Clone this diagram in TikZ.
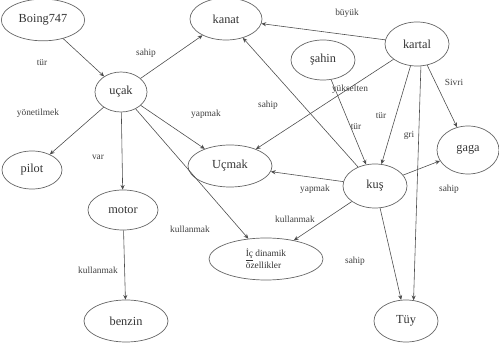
\documentclass[tikz,border=0pt]{standalone}
\usepackage{fontspec}
\setmainfont{Liberation Serif}
\usetikzlibrary{shapes.geometric,arrows.meta}
\tikzset{
    concept/.style={ellipse, draw=black!60, line width=0.6pt, inner sep=0pt,
        text=black!80, font=\fontsize{10.5}{11}\selectfont},
    rel/.style={text=black!75, font=\fontsize{8}{9}\selectfont},
    link/.style={draw=black!70, line width=0.5pt, -{Stealth[length=4pt,width=3.5pt]}}
}
\begin{document}
\begin{tikzpicture}[x=0.03cm, y=-0.03cm]
            {
    \useasboundingbox (0,0) rectangle (499,347);

    % concepts
    \node[concept, minimum width=2.5cm, minimum height=1.25cm] (boing) at (43,20) {Boing747};
    \node[concept, minimum width=2.16cm, minimum height=1.26cm] (kanat) at (226,19) {kanat};
    \node[concept, minimum width=1.56cm, minimum height=1.2cm] (ucak) at (121,92) {uçak};
    \node[concept, minimum width=1.8cm, minimum height=1.14cm] (pilot) at (32,170) {pilot};
    \node[concept, minimum width=2.52cm, minimum height=1.26cm] (ucmak) at (230,166) {Uçmak};
    \node[concept, minimum width=2.1cm, minimum height=1.2cm] (motor) at (123,210) {motor};
    \node[concept, minimum width=2.52cm, minimum height=1.26cm] (benzin) at (126,321) {benzin};
    \node[concept, minimum width=3.42cm, minimum height=1.26cm, align=left,
        font=\fontsize{8}{9}\selectfont] (ozellik) at (266,259) {\underline{İç} dinamik\\özellikler};
    \node[concept, minimum width=1.92cm, minimum height=1.32cm] (kus) at (375,186) {kuş};
    \node[concept, minimum width=1.92cm, minimum height=1.26cm] (tuy) at (406,321) {Tüy};
    \node[concept, minimum width=1.92cm, minimum height=1.2cm] (sahin) at (323,60) {şahin};
    \node[concept, minimum width=1.92cm, minimum height=1.32cm] (kartal) at (417,44) {kartal};
    \node[concept, minimum width=1.86cm, minimum height=1.44cm] (gaga) at (468,150) {gaga};

    % relations
    \draw[link] (boing) -- (ucak);
    \draw[link] (ucak) -- (kanat);
    \draw[link] (ucak) -- (pilot);
    \draw[link] (ucak) -- (ucmak);
    \draw[link] (ucak) -- (motor);
    \draw[link] (ucak) -- (ozellik);
    \draw[link] (motor) -- (benzin);
    \draw[link] (kartal) -- (kanat);
    \draw[link] (kartal) -- (ucmak);
    \draw[link] (kartal) -- (kus);
    \draw[link] (kartal.-80) -- (tuy.70);
    \draw[link] (kartal) -- (gaga);
    \draw[link] (sahin) -- (kus);
    \draw[link] (kus) -- (kanat);
    \draw[link] (kus) -- (ucmak);
    \draw[link] (kus) -- (gaga);
    \draw[link] (kus) -- (ozellik);
    \draw[link] (kus) -- (tuy);

    % labels
    \node[rel] (l1) at (42,63) {tür};
    \node[rel] (l2) at (146,53) {sahip};
    \node[rel] (l3) at (38,113) {yönetilmek};
    \node[rel] (l4) at (206,114) {yapmak};
    \node[rel] (l5) at (98,157) {var};
    \node[rel] (l6) at (190,229) {kullanmak};
    \node[rel] (l7) at (98,270) {kullanmak};
    \node[rel] (l8) at (347,13) {büyük};
    \node[rel] (l9) at (350,89) {yükselten};
    \node[rel] (l10) at (381,116) {tür};
    \node[rel] (l11) at (409,135) {gri};
    \node[rel] (l12) at (454,82) {Sivri};
    \node[rel] (l13) at (356,127) {tür};
    \node[rel] (l14) at (268,105) {sahip};
    \node[rel] (l15) at (315,189) {yapmak};
    \node[rel] (l16) at (449,189) {sahip};
    \node[rel] (l17) at (295,219) {kullanmak};
    \node[rel] (l18) at (355,261) {sahip};
}
        \end{tikzpicture}
\end{document}
